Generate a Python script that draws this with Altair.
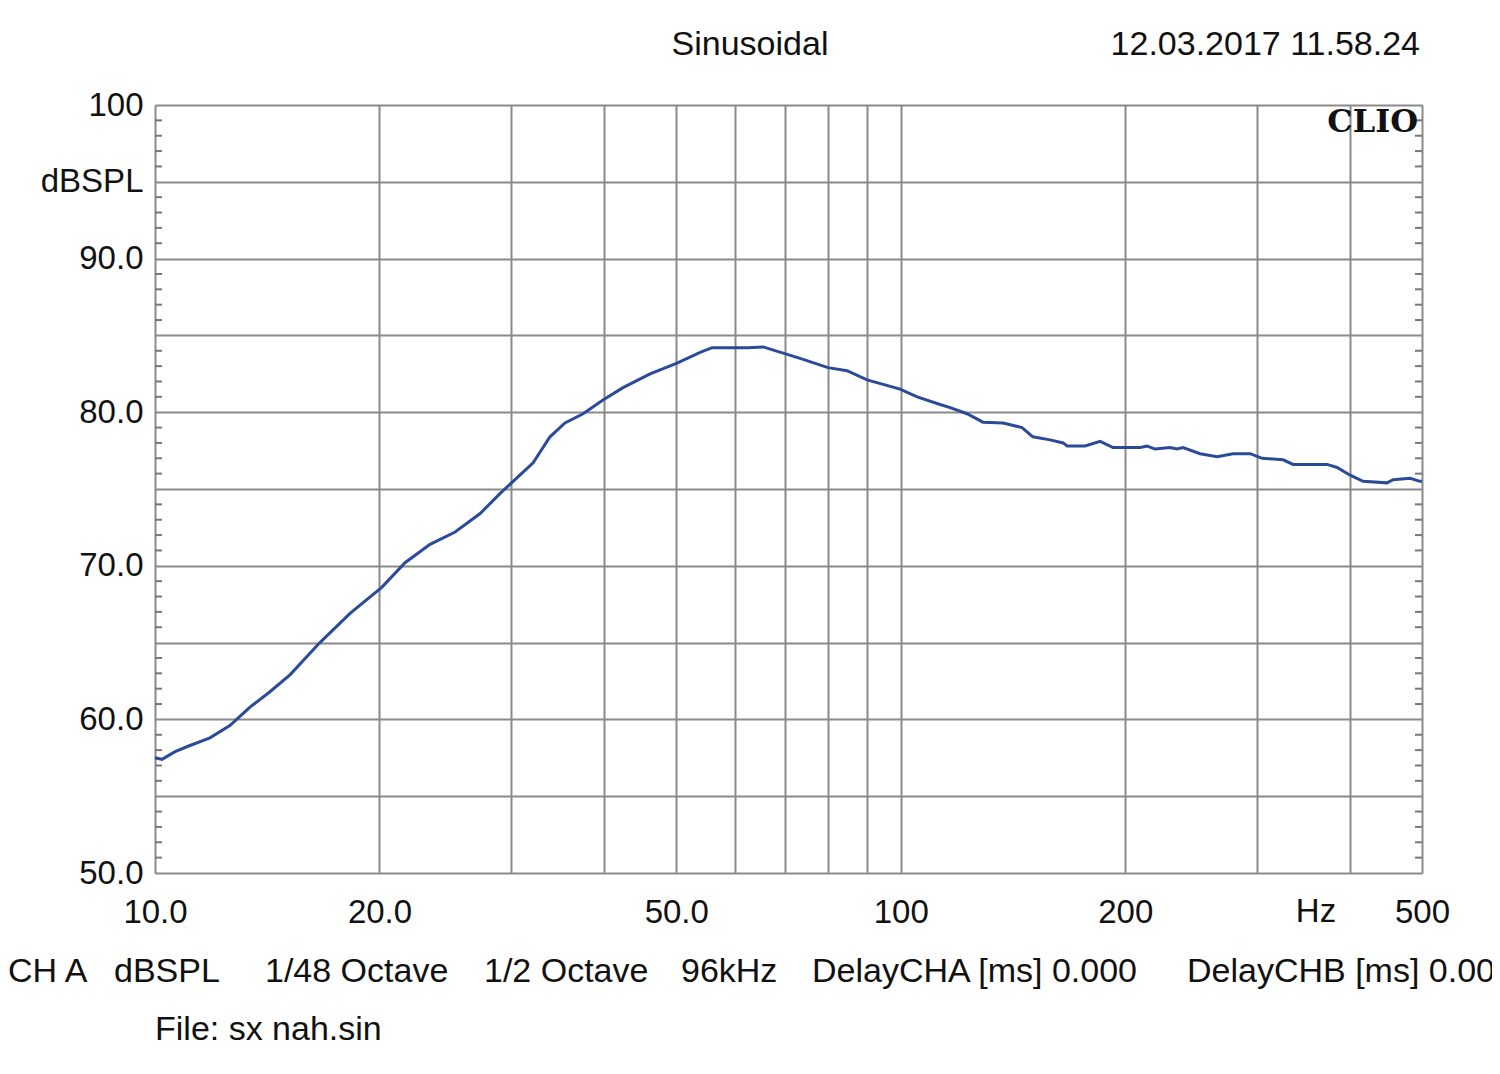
import altair as alt
import pandas as pd

# Frequency response (Hz, dBSPL)
freq_hz = [10.0, 10.22, 10.64, 11.14, 11.85, 12.60, 13.41, 14.26, 15.17, 16.64,
           18.26, 20.14, 21.64, 23.38, 25.26, 27.29, 29.01, 32.14, 33.86, 35.46,
           37.50, 39.88, 42.42, 46.12, 50.12, 53.83, 55.85, 62.41, 65.38, 69.55,
           73.28, 79.89, 84.72, 90.12, 99.79, 105.2, 112.9, 116.5, 122.7, 128.9,
           137.2, 145.4, 150.4, 158.6, 165.1, 167.1, 176.7, 185.1, 192.6, 209.5,
           214.0, 219.3, 229.7, 234.7, 239.1, 252.0, 265.6, 279.0, 294.1, 305.2,
           325.6, 335.8, 373.0, 384.7, 400.5, 416.9, 448.8, 457.3, 482.0, 496.9,
           500.0]
level_db = [57.5, 57.4, 57.9, 58.3, 58.8, 59.6, 60.8, 61.8, 62.9, 65.0,
            66.9, 68.6, 70.2, 71.4, 72.2, 73.4, 74.7, 76.7, 78.4, 79.3,
            79.9, 80.8, 81.6, 82.5, 83.2, 83.9, 84.2, 84.2, 84.25, 83.85,
            83.5, 82.9, 82.7, 82.1, 81.5, 81.0, 80.5, 80.3, 79.9, 79.35,
            79.3, 79.0, 78.4, 78.2, 78.0, 77.8, 77.8, 78.1, 77.7, 77.7,
            77.8, 77.6, 77.7, 77.6, 77.7, 77.3, 77.1, 77.3, 77.3, 77.0,
            76.9, 76.6, 76.6, 76.4, 75.9, 75.5, 75.4, 75.6, 75.7, 75.5,
            75.5]

x_grid = [10, 20, 30, 40, 50, 60, 70, 80, 90, 100, 200, 300, 400, 500]
y_grid = [50, 55, 60, 65, 70, 75, 80, 85, 90, 95, 100]
minor_db = [v for v in range(50, 101) if v % 5 != 0]

df = pd.DataFrame({"f": freq_hz, "db": level_db})
minor_df = pd.DataFrame({"db": minor_db})

FONT = "Liberation Sans"
W, H = 1267, 768

xscale = alt.Scale(type="log", domain=[10, 500], nice=False)
yscale = alt.Scale(domain=[50, 100], nice=False)

x_label_expr = ("datum.value==10?'10.0':datum.value==20?'20.0':datum.value==50?'50.0':"
                "datum.value==100?'100':datum.value==200?'200':datum.value==500?'500':''")
y_label_expr = ("datum.value==100?'100':datum.value==95?'dBSPL':"
                "datum.value%10==0?format(datum.value,'.1f'):''")

line = alt.Chart(df).mark_line(color="#2b4a98", strokeWidth=3).encode(
    x=alt.X("f:Q", scale=xscale, title=None,
            axis=alt.Axis(values=x_grid, labelExpr=x_label_expr, ticks=False, domain=False,
                          grid=True, gridColor="#8a8a8a", gridWidth=2,
                          labelFont=FONT, labelFontSize=33, labelColor="#111",
                          labelPadding=39, labelBaseline="middle", labelOverlap=False,
                          labelFlush=False)),
    y=alt.Y("db:Q", scale=yscale, title=None,
            axis=alt.Axis(values=y_grid, labelExpr=y_label_expr, ticks=False, domain=False,
                          grid=True, gridColor="#8a8a8a", gridWidth=2,
                          labelFont=FONT, labelFontSize=33, labelColor="#111",
                          labelPadding=12, labelOverlap=False, labelFlush=False)),
)

minor_left = alt.Chart(minor_df).mark_rule(color="#777", strokeWidth=2).encode(
    y=alt.Y("db:Q", scale=yscale), x=alt.value(0), x2=alt.value(7))
minor_right = alt.Chart(minor_df).mark_rule(color="#777", strokeWidth=2).encode(
    y=alt.Y("db:Q", scale=yscale), x=alt.value(W - 7), x2=alt.value(W))


def label(text, x, y, align="left", size=34, font=FONT, weight="normal"):
    return alt.Chart(pd.DataFrame({"t": [text]})).mark_text(
        align=align, baseline="middle", font=font, fontSize=size,
        fontWeight=weight, color="#111").encode(
        text="t:N", x=alt.value(x), y=alt.value(y))


texts = [
    label("Sinusoidal", 595, -60, align="center"),
    label("12.03.2017 11.58.24", 1265, -60, align="right"),
    label("CLIO", 1263, 17, align="right", size=32, font="DejaVu Serif", weight="bold"),
    label("Hz", 1161, 807, align="center", size=33),
    label("CH A", -147, 867),
    label("dBSPL", -41, 867),
    label("1/48 Octave", 110, 867),
    label("1/2 Octave", 329, 867),
    label("96kHz", 526, 867),
    label("DelayCHA [ms] 0.000", 657, 867),
    label("DelayCHB [ms] 0.000", 1032, 867),
    label("File: sx nah.sin", 0, 925),
]

chart = alt.layer(line, minor_left, minor_right, *texts).properties(
    width=W, height=H,
    autosize=alt.AutoSizeParams(type="none"),
    padding={"left": 147, "top": 97, "right": 70, "bottom": 185},
).configure_view(stroke="#707070", strokeWidth=3).configure(background="white")

chart.save("out.html", embed_options={"renderer": "svg", "actions": False})
